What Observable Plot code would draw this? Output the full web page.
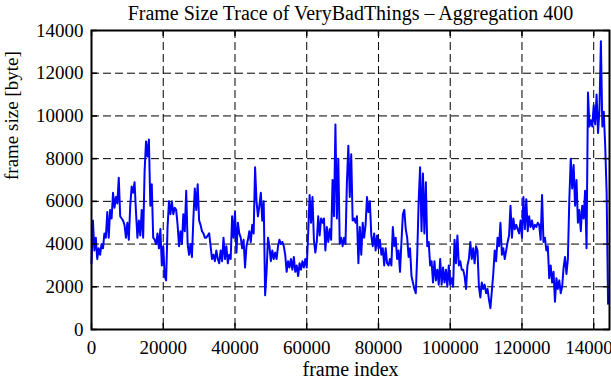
<!DOCTYPE html>
<html><head><meta charset="utf-8">
<script src="https://cdn.jsdelivr.net/npm/d3@7"></script>
<script src="https://cdn.jsdelivr.net/npm/@observablehq/plot@0.6"></script>
<style>
body{margin:0;background:#fff}
svg{font-family:"Liberation Serif","Times New Roman",serif}
</style>
</head><body><div id="chart"></div>
<script>
const title = "Frame Size Trace of VeryBadThings – Aggregation 400";
const xLabel = "frame index";
const yLabel = "frame size [byte]";
const aggregation = 400;
const xTicks = [0, 20000, 40000, 60000, 80000, 100000, 120000, 140000];
const yTicks = [0, 2000, 4000, 6000, 8000, 10000, 12000, 14000];
const frameSize = [
3100,5100,3700,4300,3300,3800,3500,4000,3800,4500,4300,5500,4300,5600,5200,6400,5700,6200,5900,7100,
5300,5200,5100,4900,4300,5000,4200,5800,6700,6400,6900,5500,4300,5100,4400,5600,4300,7400,8800,8100,
8900,5800,6800,4300,4200,4000,4500,3800,4700,3000,3900,2500,
2300,4800,6000,5400,6000,5400,5700,5600,4900,3900,4600,4000,5400,4600,6500,4000,3500,4000,3400,5200,
6600,5600,6800,5100,4900,4600,4500,4300,4300,4400,4500,3900,3300,3500,3200,3700,3300,3100,3700,3200,
4300,3300,3900,3100,3500,3300,5300,4300,5500,3600,5000,4500,
4300,3800,4200,2900,3900,4200,4600,4100,4900,4500,7600,6000,5300,5800,6400,5100,6000,1600,2700,4300,
3900,3200,3700,3300,3600,3300,3900,4200,4000,4100,3900,3500,2700,3200,2900,3300,2800,3400,2700,3000,
2500,3100,2800,3200,2900,3300,2900,4500,6300,5000,6200,
4200,3600,4100,5300,4400,5200,5000,5200,3700,4800,4100,4700,4200,7000,5300,9600,5200,8000,4000,4300,
3900,4300,4000,6900,8600,6200,8200,5100,5200,5000,5300,3100,4800,3500,5000,4300,4900,6200,5500,6000,
4400,3900,4500,3700,4400,3800,4200,3500,3800,3000,3800,3100,
3000,3300,3000,4800,3900,4300,3300,3700,2700,4100,5400,5600,4700,4300,3400,3800,2500,2200,1900,1700,
3500,6000,7600,4600,7300,4500,6900,3900,4100,3000,3200,2200,3200,2300,2800,2100,3300,2100,2900,2200,
2800,2000,3000,2100,2400,2000,4200,3100,4400,3000,3200,2800,
2800,2500,1900,3000,3300,4100,3300,3800,3100,3900,3700,2000,1500,2200,1900,2100,1700,1900,1400,1000,
1800,2600,3700,3200,4300,3900,5000,3500,3800,3300,3700,4100,4400,5800,4300,5200,4700,4900,4700,4500,
5100,4300,6200,4700,6100,4600,5300,4800,5100,4700,4900,
4800,5000,4900,4200,6300,4100,4300,3700,3900,2400,3000,2200,2700,1300,2400,1900,2300,1700,2000,2900,
3400,2600,3300,6100,8000,6600,7700,5800,7000,5000,5600,4600,5800,5200,6500,3800,11100,9500,9800,9500,
10500,9600,11000,9200,10300,13500,9500,10200,8600,6400,1200
];
const data = frameSize.map((v, i) => ({frame: i * aggregation, size: v}));

const W = 611, H = 380, mL = 91, mR = 2, mT = 30, mB = 51;
const fw = W - mL - mR, fh = H - mT - mB, tick = 6, fs = 19;

const chart = Plot.plot({
  width: W, height: H,
  marginLeft: mL, marginRight: mR, marginTop: mT, marginBottom: mB,
  style: {fontFamily: '"Liberation Serif","Times New Roman",serif', fontSize: fs + "px", background: "#fff", color: "#000"},
  x: {domain: [0, 144400]},
  y: {domain: [0, 14000]},
  marks: [
    Plot.gridX(xTicks.filter(t => t > 0), {stroke: "#000", strokeOpacity: 1, strokeWidth: 1, strokeDasharray: "8,4"}),
    Plot.gridY(yTicks.filter(t => t > 0 && t < 14000), {stroke: "#000", strokeOpacity: 1, strokeWidth: 1, strokeDasharray: "8,4"}),
    Plot.line(data, {x: "frame", y: "size", stroke: "#0000ff", strokeWidth: 2}),
    Plot.tickX(xTicks, {x: d => d, stroke: "#000", strokeWidth: 1.5, insetTop: fh - tick}),
    Plot.tickX(xTicks, {x: d => d, stroke: "#000", strokeWidth: 1.5, insetBottom: fh - tick}),
    Plot.tickY(yTicks, {y: d => d, stroke: "#000", strokeWidth: 1.5, insetRight: fw - tick}),
    Plot.tickY(yTicks, {y: d => d, stroke: "#000", strokeWidth: 1.5, insetLeft: fw - tick}),
    Plot.frame({stroke: "#000", strokeWidth: 2}),
    Plot.axisX(xTicks, {tickSize: 0, tickPadding: 11, tickFormat: "d", fontSize: fs, label: null}),
    Plot.axisY(yTicks, {tickSize: 0, tickPadding: 8, tickFormat: "d", fontSize: fs, label: null}),
    Plot.text([title], {frameAnchor: "top", dy: -25, fontSize: 20, fill: "#000"}),
    Plot.text([xLabel], {frameAnchor: "bottom", dy: 46, fontSize: 20, fill: "#000"}),
    Plot.text([yLabel], {frameAnchor: "left", dx: -80, rotate: -90, fontSize: fs, fill: "#000"})
  ]
});
document.getElementById("chart").appendChild(chart);
</script>
</body></html>
